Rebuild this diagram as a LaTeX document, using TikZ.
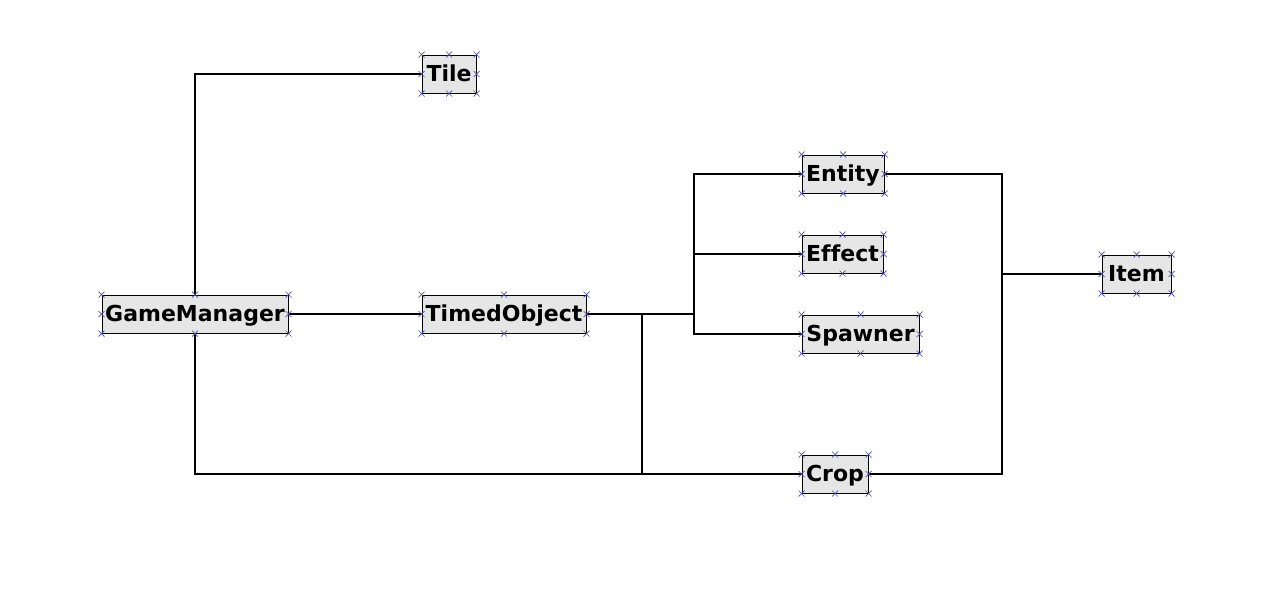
\documentclass[tikz,border=0pt]{standalone}
\usepackage{fontspec}
\setmainfont[Ligatures=NoCommon]{DejaVu Sans}
\definecolor{boxfill}{RGB}{230,230,230}
\definecolor{markblue}{RGB}{80,80,170}
\tikzset{
  cls/.style={draw=black, line width=1pt, fill=boxfill, minimum height=38pt,
    inner sep=0pt, text height=16pt, text depth=1pt,
    font=\fontsize{22}{24}\selectfont\bfseries},
  conn/.style={line width=2pt, black},
  cross/.style={draw=markblue, line width=0.7pt}
}
\begin{document}
\begin{tikzpicture}[x=1pt,y=-1pt]
\useasboundingbox[fill=white] (0,0) rectangle (1276,590);
\node[cls, minimum width=186pt] (GM) at (195,314) {GameManager};
\node[cls, minimum width=54pt] (Tile) at (449,74) {Tile};
\node[cls, minimum width=164pt] (TO) at (504,314) {TimedObject};
\node[cls, minimum width=82pt] (Entity) at (843,174) {Entity};
\node[cls, minimum width=81pt] (Effect) at (842.5,254) {Effect};
\node[cls, minimum width=117pt] (Spawner) at (860.5,334) {Spawner};
\node[cls, minimum width=66pt] (Crop) at (835,474) {Crop};
\node[cls, minimum width=69pt] (Item) at (1136.5,274) {Item};
\coordinate (b1) at (694,314);
\coordinate (b2) at (642,314);
\coordinate (b3) at (1002,474);
\draw[conn] (GM.north) |- (Tile.west);
\draw[conn] (GM.east) -- (TO.west);
\draw[conn] (TO.east) -- (b1);
\draw[conn] (Entity.west) -| (b1);
\draw[conn] (Spawner.west) -| (b1);
\draw[conn] (Effect.west) -- (Effect.west -| b1);
\draw[conn] (GM.south) |- (Crop.west);
\draw[conn] (b2) -- (b2 |- Crop.west);
\draw[conn] (Entity.east) -| (b3) -- (Crop.east);
\draw[conn] (Item.west) -- (Item.west -| b3);
\foreach \n in {GM,Tile,TO,Entity,Effect,Spawner,Crop,Item}
  \foreach \a in {north west,north,north east,east,south east,south,south west,west}
    \draw[cross] ([shift={(-3,-3)}]\n.\a) -- ([shift={(3,3)}]\n.\a)
                 ([shift={(-3,3)}]\n.\a) -- ([shift={(3,-3)}]\n.\a);
\end{tikzpicture}
\end{document}
